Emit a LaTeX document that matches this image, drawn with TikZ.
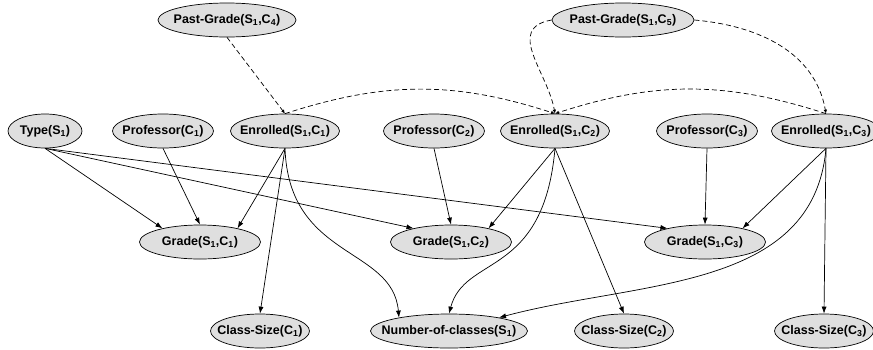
\documentclass[tikz,border=0pt]{standalone}
\usepackage{fontspec}
\setmainfont{Liberation Sans}
\usetikzlibrary{shapes,arrows.meta,calc}
\newcommand{\Sa}{S\textsubscript{1}}
\newcommand{\Cx}[1]{C\textsubscript{#1}}
\newcommand{\rvtext}[1]{\makebox[0pt]{#1}}
\tikzset{
    rv/.style = {draw, ellipse, fill=gray!25,
        minimum height=34pt, inner sep=0pt,
        font=\bfseries\fontsize{12.5}{14}\selectfont},
    dep/.style = {draw, -{Latex[length=7pt,width=5pt]}},
    past/.style = {draw, dash pattern=on 5pt off 3pt, -{Latex[length=4pt,width=3.5pt]}}
}
\begin{document}
\begin{tikzpicture}[x=1pt, y=1pt, line width=0.7pt]
        \useasboundingbox (0,0) rectangle (873,-349);
        \node [rv, minimum width=138pt] (pg4) at (227,-20) {\rvtext{Past-Grade(\Sa,\Cx{4})}};
        \node [rv, minimum width=142pt, right of=pg4, node distance=396pt] (pg5) {\rvtext{Past-Grade(\Sa,\Cx{5})}};
        \node [rv, minimum width=74pt] (type) at (45,-131) {\rvtext{Type(\Sa)}};
        \node [rv, minimum width=101pt, right of=type, node distance=118pt] (p1) {\rvtext{Professor(\Cx{1})}};
        \node [rv, minimum width=109pt, right of=p1, node distance=122pt] (e1) {\rvtext{Enrolled(\Sa,\Cx{1})}};
        \node [rv, minimum width=101pt, right of=e1, node distance=149pt] (p2) {\rvtext{Professor(\Cx{2})}};
        \node [rv, minimum width=109pt, right of=p2, node distance=121pt] (e2) {\rvtext{Enrolled(\Sa,\Cx{2})}};
        \node [rv, minimum width=101pt, right of=e2, node distance=152pt] (p3) {\rvtext{Professor(\Cx{3})}};
        \node [rv, minimum width=109pt, right of=p3, node distance=119pt] (e3) {\rvtext{Enrolled(\Sa,\Cx{3})}};
        \node [rv, minimum width=121pt] (g1) at (200,-242) {\rvtext{Grade(\Sa,\Cx{1})}};
        \node [rv, minimum width=121pt, right of=g1, node distance=251pt] (g2) {\rvtext{Grade(\Sa,\Cx{2})}};
        \node [rv, minimum width=121pt, right of=g2, node distance=254pt] (g3) {\rvtext{Grade(\Sa,\Cx{3})}};
        \node [rv, minimum width=99pt] (cs1) at (260,-331) {\rvtext{Class-Size(\Cx{1})}};
        \node [rv, minimum width=157pt, right of=cs1, node distance=189pt] (noc) {\rvtext{Number-of-classes(\Sa)}};
        \node [rv, minimum width=99pt, right of=noc, node distance=175pt] (cs2) {\rvtext{Class-Size(\Cx{2})}};
        \node [rv, minimum width=99pt, right of=cs2, node distance=200pt] (cs3) {\rvtext{Class-Size(\Cx{3})}};
        \draw [dep] (type.south) -- (g1.160);
        \draw [dep] (type.south) -- (g2.160);
        \draw [dep] (type.south) -- (g3.160);
        \draw [dep] (p1.south) -- (g1.north);
        \draw [dep] (e1.south) -- (g1.20);
        \draw [dep] (e1.south) -- (cs1.north);
        \draw [dep] (e1.south) to[out=-88, in=95, out looseness=1.4, in looseness=0.9] (noc.165);
        \draw [dep] (p2.south) -- (g2.north);
        \draw [dep] (e2.south) -- (g2.20);
        \draw [dep] (e2.south) -- (cs2.north);
        \draw [dep] (e2.south) to[out=-95, in=75, out looseness=1.7, in looseness=0.8] (noc.north);
        \draw [dep] (p3.south) -- (g3.north);
        \draw [dep] (e3.south) -- (g3.20);
        \draw [dep] (e3.south) -- (cs3.north);
        \draw [dep] (e3.south) to[out=-95, in=15] (noc.15);
        \draw [past] (pg4.south) -- (e1.north);
        \draw [past] (e1.north) to[out=18, in=162] (e2.north);
        \draw [past] (e3.north) to[out=162, in=18] (e2.north);
        \draw [past] (pg5.west) to[out=190, in=100, out looseness=1.3, in looseness=1.15] (e2.north);
        \draw [past] (pg5.east) to[out=-5, in=100] (e3.north);
    \end{tikzpicture}
\end{document}
